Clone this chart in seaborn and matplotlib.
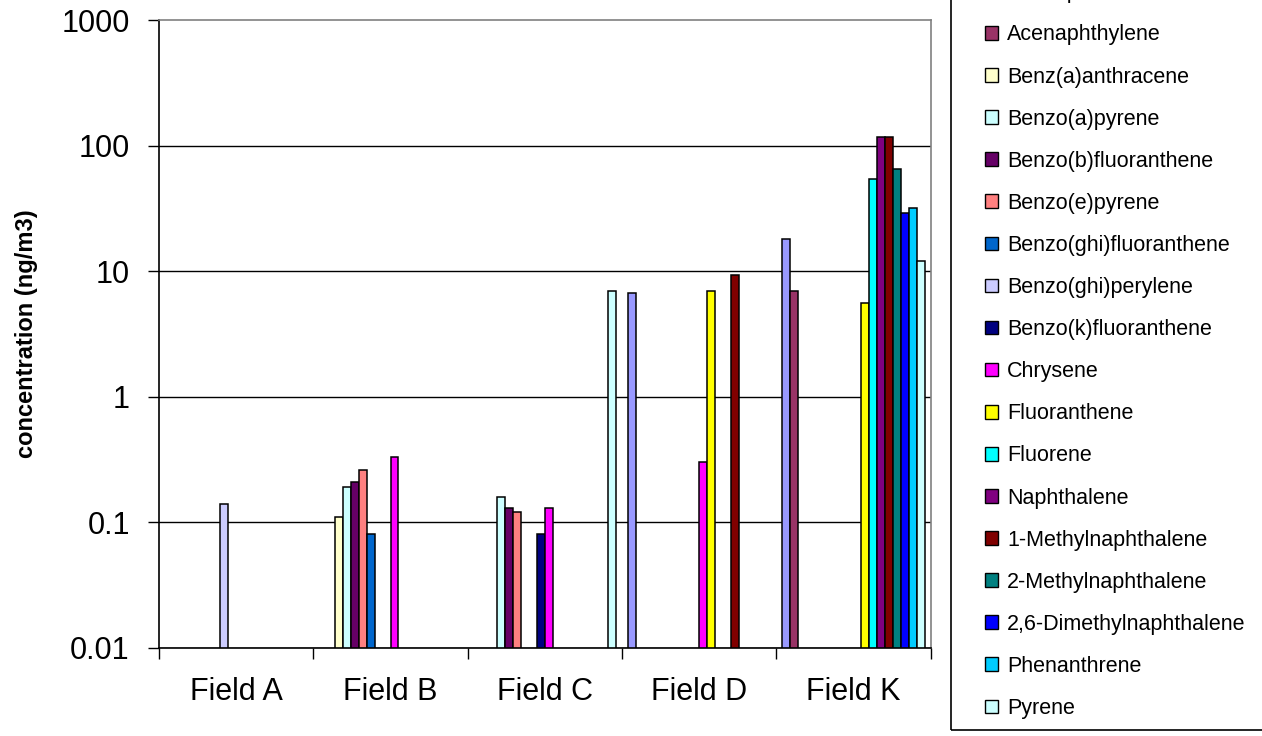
import numpy as np
import pandas as pd
import matplotlib
matplotlib.use("Agg")
import matplotlib.pyplot as plt
import seaborn as sns
from matplotlib.patches import Rectangle
from matplotlib.ticker import FixedLocator, NullLocator, FuncFormatter

FIELDS = ["Field A", "Field B", "Field C", "Field D", "Field K"]

COMPOUNDS = [
    "Acenaphthene",
    "Acenaphthylene",
    "Benz(a)anthracene",
    "Benzo(a)pyrene",
    "Benzo(b)fluoranthene",
    "Benzo(e)pyrene",
    "Benzo(ghi)fluoranthene",
    "Benzo(ghi)perylene",
    "Benzo(k)fluoranthene",
    "Chrysene",
    "Fluoranthene",
    "Fluorene",
    "Naphthalene",
    "1-Methylnaphthalene",
    "2-Methylnaphthalene",
    "2,6-Dimethylnaphthalene",
    "Phenanthrene",
    "Pyrene",
]

COLORS = [
    "#9999FF", "#993366", "#FFFFCC", "#CCFFFF", "#660066", "#FF8080",
    "#0066CC", "#CCCCFF", "#000080", "#FF00FF", "#FFFF00", "#00FFFF",
    "#800080", "#800000", "#008080", "#0000FF", "#00CCFF", "#CCFFFF",
]

nan = np.nan
# concentration (ng/m3) per compound, one value per field (A, B, C, D, K)
acenaphthene         = [nan, nan, nan, 6.7, 18.0]
acenaphthylene       = [nan, nan, nan, nan, 6.9]
benz_a_anthracene    = [nan, 0.11, nan, nan, nan]
benzo_a_pyrene       = [nan, 0.19, 0.16, nan, nan]
benzo_b_fluoranthene = [nan, 0.21, 0.13, nan, nan]
benzo_e_pyrene       = [nan, 0.26, 0.12, nan, nan]
benzo_ghi_fluoranth  = [nan, 0.08, nan, nan, nan]
benzo_ghi_perylene   = [0.14, nan, nan, nan, nan]
benzo_k_fluoranthene = [nan, nan, 0.08, nan, nan]
chrysene             = [nan, 0.33, 0.13, 0.30, nan]
fluoranthene         = [nan, nan, nan, 6.9, 5.6]
fluorene             = [nan, nan, nan, nan, 54.0]
naphthalene          = [nan, nan, nan, nan, 116.0]
methylnaph_1         = [nan, nan, nan, 9.3, 116.0]
methylnaph_2         = [nan, nan, nan, nan, 65.0]
dimethylnaph_26      = [nan, nan, nan, nan, 29.0]
phenanthrene         = [nan, nan, nan, nan, 32.0]
pyrene               = [nan, nan, 6.9, nan, 12.0]

SERIES = [
    acenaphthene, acenaphthylene, benz_a_anthracene, benzo_a_pyrene,
    benzo_b_fluoranthene, benzo_e_pyrene, benzo_ghi_fluoranth,
    benzo_ghi_perylene, benzo_k_fluoranthene, chrysene, fluoranthene,
    fluorene, naphthalene, methylnaph_1, methylnaph_2, dimethylnaph_26,
    phenanthrene, pyrene,
]

rows = []
for name, vals in zip(COMPOUNDS, SERIES):
    for field, v in zip(FIELDS, vals):
        rows.append({"field": field, "compound": name, "value": v})
df = pd.DataFrame(rows).dropna()

sns.set_style("white")
plt.rcParams["font.family"] = ["Liberation Sans", "DejaVu Sans"]
plt.rcParams["text.color"] = "black"
plt.rcParams["axes.labelcolor"] = "black"
plt.rcParams["xtick.color"] = "black"
plt.rcParams["ytick.color"] = "black"

W, H = 1262, 736
fig = plt.figure(figsize=(W / 100, H / 100), dpi=100)
ax = fig.add_axes([159 / W, 1 - 647.7 / H, (930.7 - 159) / W, (647.7 - 20) / H])

sns.barplot(
    data=df, x="field", y="value", hue="compound",
    order=FIELDS, hue_order=COMPOUNDS, palette=COLORS,
    width=18 / 19.5, errorbar=None, saturation=1,
    edgecolor="black", linewidth=1.1, ax=ax,
)

handles, labels = ax.get_legend_handles_labels()
if ax.get_legend() is not None:
    ax.get_legend().remove()

ax.set_yscale("log")
ax.set_ylim(0.01, 1000)
ax.set_xlim(-0.5, 4.5)

yt = [0.01, 0.1, 1, 10, 100, 1000]
ax.yaxis.set_major_locator(FixedLocator(yt))
ax.yaxis.set_minor_locator(NullLocator())
ax.yaxis.set_major_formatter(FuncFormatter(lambda v, p: f"{v:g}"))
ax.tick_params(axis="y", which="major", direction="out", length=8, width=1,
               color="black", labelcolor="black", labelsize=22, pad=13, left=True)

# x: ticks at category boundaries, labels at centres
ax.xaxis.set_major_locator(FixedLocator(np.arange(-0.5, 5, 1.0)))
ax.xaxis.set_minor_locator(FixedLocator(np.arange(0, 5, 1.0)))
ax.xaxis.set_major_formatter(FuncFormatter(lambda v, p: ""))
ax.xaxis.set_minor_formatter(FuncFormatter(lambda v, p: FIELDS[int(round(v))]))
ax.tick_params(axis="x", which="major", direction="out", length=8, width=1,
               color="black", bottom=True)
ax.tick_params(axis="x", which="minor", length=0, labelsize=22, pad=21,
               labelcolor="black")
ax.set_xlabel("")

ax.grid(axis="y", which="major", color="black", linewidth=1.0)
ax.grid(axis="x", visible=False)
ax.set_axisbelow(True)
ax.get_ygridlines()[-1].set_visible(False)

for side in ["left", "bottom"]:
    ax.spines[side].set_color("black")
    ax.spines[side].set_linewidth(1.2)
for side in ["top", "right"]:
    ax.spines[side].set_color("#808080")
    ax.spines[side].set_linewidth(1.2)
    ax.spines[side].set_visible(True)

ax.set_ylabel("concentration (ng/m3)", fontsize=17, fontweight="bold", color="black")
ax.yaxis.set_label_coords((38 - 159) / (930.7 - 159), 0.5)

for h in handles:
    h.set_edgecolor("black")
    h.set_linewidth(1.0)

fig.legend(
    handles, labels, loc="lower left",
    bbox_to_anchor=(985 / W, 17 / H), frameon=False, fontsize=15.5,
    labelcolor="black",
    handlelength=0.6, handleheight=0.6, handletextpad=0.42,
    labelspacing=0.98, borderpad=0, borderaxespad=0,
)
fig.add_artist(Rectangle((951 / W, 6 / H), 0.4, 1.2, transform=fig.transFigure,
                         fill=False, edgecolor="black", linewidth=1.2, clip_on=False))

fig.savefig("out.png", dpi=100)
